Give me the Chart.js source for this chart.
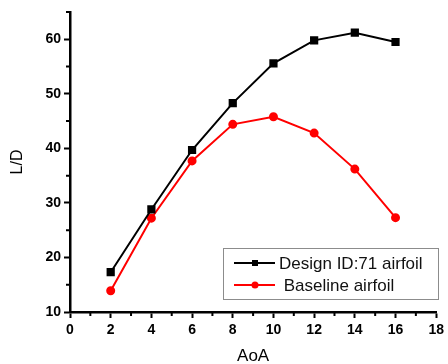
<!DOCTYPE html>
<html>
<head>
<meta charset="utf-8">
<script src="https://cdn.jsdelivr.net/npm/chart.js@4"></script>
<style>
  html, body { margin: 0; padding: 0; background: #fff; }
  canvas { display: block; }
</style>
</head>
<body>
<canvas id="ldChart" width="448" height="364"></canvas>
<script>
const aoa = [2, 4, 6, 8, 10, 12, 14, 16];
const designLD = [17.3, 28.8, 39.7, 48.3, 55.6, 59.8, 61.2, 59.5];
const baselineLD = [13.9, 27.2, 37.7, 44.4, 45.8, 42.8, 36.2, 27.3];
const seriesNames = ["Design ID:71 airfoil", " Baseline airfoil"];

const toPoints = (ys) => aoa.map((x, i) => ({ x: x, y: ys[i] }));

// minor ticks between the labelled ones, pointing outward
const minorTicks = {
  id: "minorTicks",
  afterDraw(chart) {
    const ctx = chart.ctx;
    const xs = chart.scales.x;
    const ys = chart.scales.y;
    ctx.save();
    ctx.strokeStyle = "#000";
    ctx.lineWidth = 2;
    ctx.beginPath();
    for (let v = 1; v < 18; v += 2) {
      const px = xs.getPixelForValue(v);
      ctx.moveTo(px, xs.top);
      ctx.lineTo(px, xs.top + 4);
    }
    for (let v = 15; v <= 65; v += 10) {
      const py = ys.getPixelForValue(v);
      ctx.moveTo(ys.right, py);
      ctx.lineTo(ys.right - 4, py);
    }
    ctx.stroke();
    ctx.restore();
  }
};

// boxed legend with line + marker samples
const boxLegend = {
  id: "boxLegend",
  afterDraw(chart) {
    const ctx = chart.ctx;
    const left = 223, top = 248, w = 215, h = 51;
    ctx.save();
    ctx.fillStyle = "#fff";
    ctx.fillRect(left, top, w, h);
    ctx.strokeStyle = "#8c8c8c";
    ctx.lineWidth = 1;
    ctx.strokeRect(left + 0.5, top + 0.5, w, h);
    ctx.font = "17px Arial, 'Liberation Sans', sans-serif";
    ctx.textBaseline = "middle";
    chart.data.datasets.forEach((ds, i) => {
      const cy = top + 15 + i * 22;
      ctx.strokeStyle = ds.borderColor;
      ctx.lineWidth = 2;
      ctx.beginPath();
      ctx.moveTo(left + 11, cy);
      ctx.lineTo(left + 52, cy);
      ctx.stroke();
      ctx.fillStyle = ds.borderColor;
      if (ds.pointStyle === "rect") {
        ctx.fillRect(left + 29, cy - 3, 6, 6);
      } else {
        ctx.beginPath();
        ctx.arc(left + 32, cy, 3.5, 0, Math.PI * 2);
        ctx.fill();
      }
      ctx.fillStyle = "#111";
      ctx.fillText(seriesNames[i], left + 56, cy + 1);
    });
    ctx.restore();
  }
};

const tickFont = { family: "Arial, 'Liberation Sans', sans-serif", size: 14, weight: "bold" };
const titleFont = { family: "Arial, 'Liberation Sans', sans-serif", size: 17, weight: "normal" };

new Chart(document.getElementById("ldChart"), {
  type: "line",
  data: {
    datasets: [
      {
        label: seriesNames[0],
        data: toPoints(designLD),
        borderColor: "#000000",
        backgroundColor: "#000000",
        borderWidth: 2,
        pointStyle: "rect",
        pointRadius: 4.4,
        pointHoverRadius: 4.4,
        tension: 0
      },
      {
        label: seriesNames[1],
        data: toPoints(baselineLD),
        borderColor: "#ff0000",
        backgroundColor: "#ff0000",
        borderWidth: 2,
        pointStyle: "circle",
        pointRadius: 3.5,
        pointHoverRadius: 3.5,
        tension: 0
      }
    ]
  },
  options: {
    responsive: false,
    animation: false,
    events: [],
    layout: { padding: { left: 0, top: 12, right: 9, bottom: 0 } },
    plugins: { legend: { display: false }, tooltip: { enabled: false } },
    scales: {
      x: {
        type: "linear",
        min: 0,
        max: 18,
        ticks: { stepSize: 2, color: "#000", font: tickFont, padding: 4, maxRotation: 0 },
        grid: { drawOnChartArea: false, drawTicks: true, tickLength: 6, tickWidth: 2, tickColor: "#000" },
        border: { display: true, width: 2.5, color: "#000" },
        title: { display: true, text: "AoA", color: "#000", font: titleFont, padding: { top: 0, bottom: -3 } },
        afterFit(scale) { scale.height = 52; }
      },
      y: {
        type: "linear",
        min: 10,
        max: 65,
        ticks: { stepSize: 10, color: "#000", font: tickFont, padding: 3 },
        afterBuildTicks(scale) { scale.ticks = scale.ticks.filter(t => t.value % 10 === 0); },
        grid: { drawOnChartArea: false, drawTicks: true, tickLength: 6, tickWidth: 2, tickColor: "#000" },
        border: { display: true, width: 2.5, color: "#000" },
        title: { display: true, text: "L/D", color: "#000", font: { family: "Arial, 'Liberation Sans', sans-serif", size: 16 }, padding: { top: 8, bottom: 0 } },
        afterFit(scale) { scale.width = 70; }
      }
    }
  },
  plugins: [minorTicks, boxLegend]
});
</script>
</body>
</html>
